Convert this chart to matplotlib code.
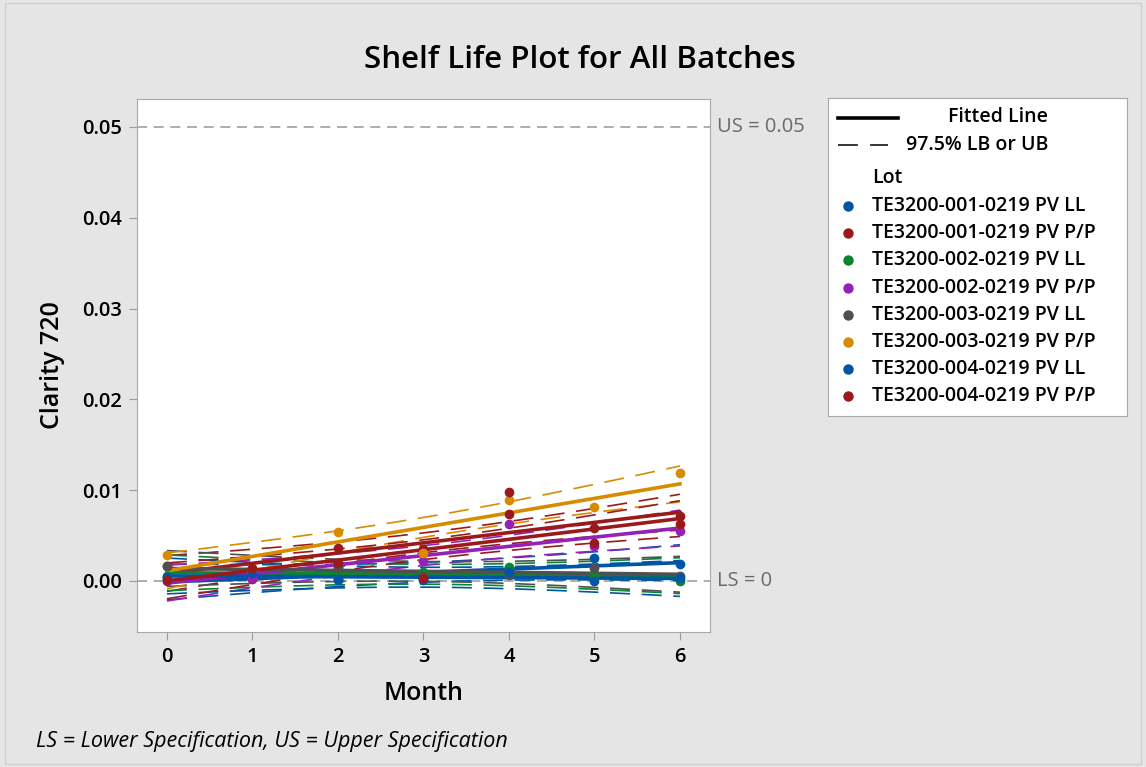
import numpy as np
import matplotlib
matplotlib.use("Agg")
import matplotlib.pyplot as plt
from matplotlib.patches import Rectangle

plt.rcParams['font.family'] = ['Open Sans', 'DejaVu Sans']

# data (clarity at each month, per lot)
months = [0, 1, 2, 3, 4, 5, 6]
lots = ["TE3200-001-0219 PV LL", "TE3200-001-0219 PV P/P",
        "TE3200-002-0219 PV LL", "TE3200-002-0219 PV P/P",
        "TE3200-003-0219 PV LL", "TE3200-003-0219 PV P/P",
        "TE3200-004-0219 PV LL", "TE3200-004-0219 PV P/P"]
lot_colors = ['#0055a5', '#9a1a1c', '#0b862f', '#9422b8',
              '#505050', '#d98b00', '#0055a5', '#9a1a1c']

clarity_001_ll = [0.0003, 0.0005, 0.0001, 0.0002, 0.0012, 0.0025, 0.0019]
clarity_001_pp = [0.0017, 0.0002, 0.0036, 0.0035, 0.0074, 0.0058, 0.0072]
clarity_002_ll = [0.0006, 0.0012, 0.0002, 0.0010, 0.0015, 0.0007, 0.0000]
clarity_002_pp = [0.0000, 0.0003, 0.0015, 0.0022, 0.0063, 0.0038, 0.0055]
clarity_003_ll = [0.0016, 0.0010, 0.0015, 0.0006, 0.0007, 0.0014, 0.0006]
clarity_003_pp = [0.0029, 0.0010, 0.0054, 0.0031, 0.0089, 0.0081, 0.0119]
clarity_004_ll = [0.0004, 0.0009, 0.0002, 0.0001, 0.0010, 0.0000, 0.0003]
clarity_004_pp = [0.0001, 0.0014, 0.0020, 0.0003, 0.0098, 0.0042, 0.0063]

lot_values = [clarity_001_ll, clarity_001_pp, clarity_002_ll, clarity_002_pp,
              clarity_003_ll, clarity_003_pp, clarity_004_ll, clarity_004_pp]

upper_spec = 0.05
lower_spec = 0.0
T_975 = 2.021  # t quantile, 0.975, ~40 df

# fit each lot, pool the error
x = np.array(months, dtype=float)
fits = []
sse = 0.0
n_total = 0
for vals in lot_values:
    y = np.array(vals)
    slope, intercept = np.polyfit(x, y, 1)
    sse += np.sum((y - (intercept + slope * x)) ** 2)
    n_total += len(y)
    fits.append((slope, intercept))
mse = sse / (n_total - 2 * len(lot_values))
xbar = x.mean()
sxx = np.sum((x - xbar) ** 2)

fig = plt.figure(figsize=(11.46, 7.67), dpi=100, facecolor='#e5e5e5')
fig.patches.append(Rectangle((0.004, 0.004), 0.992, 0.992, transform=fig.transFigure,
                             fill=False, edgecolor='#cfcfcf', lw=1))

ax = fig.add_axes([0.1195, 0.176, 0.5, 0.695])
ax.set_facecolor('white')

xs = np.linspace(0, 6, 100)
for (slope, intercept), col in zip(fits, lot_colors):
    se = np.sqrt(mse * (1 / len(x) + (xs - xbar) ** 2 / sxx))
    fit = intercept + slope * xs
    ax.plot(xs, fit + T_975 * se, color=col, lw=1.2, dashes=(12, 7), zorder=2)
    ax.plot(xs, fit - T_975 * se, color=col, lw=1.2, dashes=(12, 7), zorder=2)

for (slope, intercept), vals, col in zip(fits, lot_values, lot_colors):
    ax.plot(xs, intercept + slope * xs, color=col, lw=2.6, zorder=3)
    ax.plot(months, vals, 'o', color=col, ms=7, mec='none', zorder=4)

for spec in (upper_spec, lower_spec):
    ax.axhline(spec, color='#a0a0a0', lw=1.2, dashes=(6, 4), zorder=1)
ax.text(1.013, upper_spec, "US = 0.05", transform=ax.get_yaxis_transform(),
        va='center', ha='left', fontsize=14.5, color='#6a6a6a', clip_on=False)
ax.text(1.013, lower_spec, "LS = 0", transform=ax.get_yaxis_transform(),
        va='center', ha='left', fontsize=14.5, color='#6a6a6a', clip_on=False)

ax.set_xlim(-0.351, 6.351)
ax.set_ylim(-0.00562, 0.05308)
ax.set_xticks(months)
ax.set_yticks([0, 0.01, 0.02, 0.03, 0.04, 0.05])
ax.set_yticklabels(["0.00", "0.01", "0.02", "0.03", "0.04", "0.05"])
ax.tick_params(direction='out', length=6, color='#9a9a9a', labelsize=14.5, pad=5)
for lab in ax.get_xticklabels() + ax.get_yticklabels():
    lab.set_fontweight('semibold')
for sp in ax.spines.values():
    sp.set_color('#a8a8a8')

ax.set_xlabel("Month", fontsize=18, fontweight='semibold', labelpad=10)
ax.set_ylabel("Clarity 720", fontsize=18, fontweight='semibold', labelpad=12)
fig.text(0.506, 0.922, "Shelf Life Plot for All Batches", ha='center', va='center',
         fontsize=22.5, fontweight='semibold')
fig.text(0.031, 0.033, "LS = Lower Specification, US = Upper Specification",
         ha='left', va='center', fontsize=15.5, style='italic')

# legend panel drawn by hand
lg = fig.add_axes([828 / 1146, 1 - 416 / 767, 299 / 1146, 318 / 767])
lg.set_xlim(0, 299)
lg.set_ylim(318, 0)
lg.set_xticks([])
lg.set_yticks([])
for sp in lg.spines.values():
    sp.set_color('#a8a8a8')
lg.plot([10, 70], [20, 20], color='black', lw=2.6)
lg.text(120, 19, "Fitted Line", va='center', fontsize=14, fontweight='semibold')
lg.plot([10, 60], [47, 47], color='black', lw=1.1, dashes=(13, 8))
lg.text(78, 47, "97.5% LB or UB", va='center', fontsize=14, fontweight='semibold')
lg.text(44, 80, "Lot", va='center', fontsize=14, fontweight='semibold')
for i, (name, col) in enumerate(zip(lots, lot_colors)):
    yy = 108 + i * 27.2
    lg.plot(20, yy, 'o', color=col, ms=7.5, mec='none')
    lg.text(44, yy, name, va='center', fontsize=14, fontweight='semibold')

fig.savefig("out.png", dpi=100, facecolor=fig.get_facecolor())
